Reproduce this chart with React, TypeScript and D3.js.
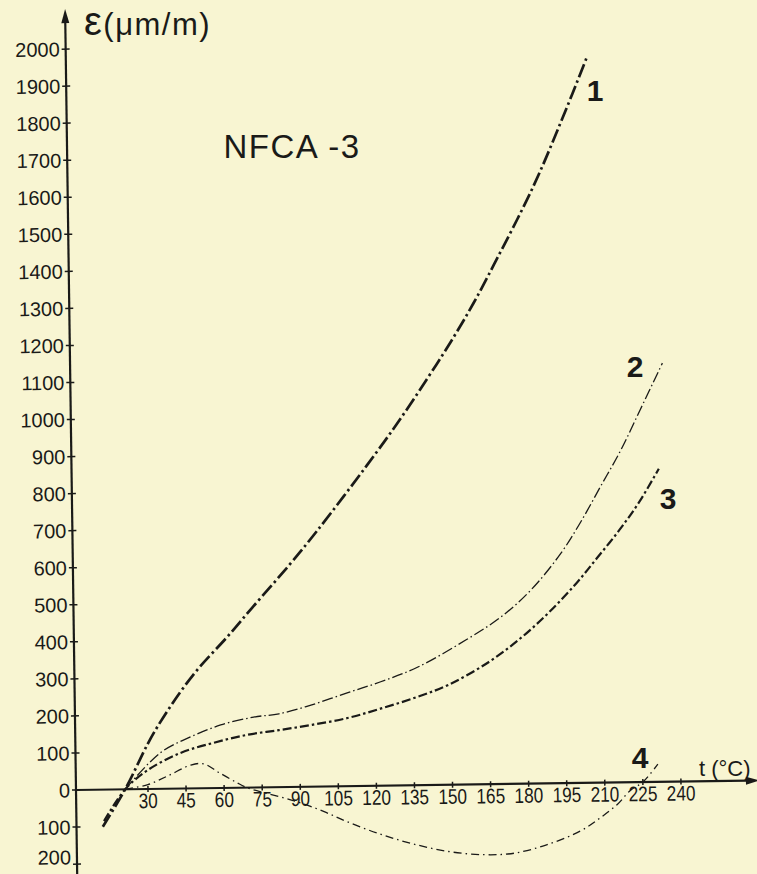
import React, { useEffect, useRef } from "react";
import * as d3 from "d3";

// temperature ticks (°C) and strain ticks (µm/m)
const xTicks = [30, 45, 60, 75, 90, 105, 120, 135, 150, 165, 180, 195, 210, 225, 240];
const yTicks = [-200, -100, 0, 100, 200, 300, 400, 500, 600, 700, 800, 900, 1000, 1100, 1200, 1300, 1400, 1500, 1600, 1700, 1800, 1900, 2000];

// curve 1
const curve1T = [12, 21, 30, 34, 43, 51, 62, 72, 87, 98, 118, 131, 146, 154, 161, 169, 185, 197, 207];
const curve1V = [-100, 0, 120, 167, 258, 327, 407, 485, 600, 690, 865, 985, 1135, 1220, 1300, 1400, 1610, 1795, 1960];

// curve 2
const curve2T = [21, 35, 47, 59, 72, 82, 95, 109, 122, 137, 156, 170, 182, 194, 202, 210, 218, 226, 235];
const curve2V = [0, 97, 139, 170, 190, 198, 221, 252, 280, 319, 390, 451, 523, 621, 705, 800, 895, 1005, 1130];

// curve 3
const curve3T = [12.5, 21, 30, 43, 56, 69, 82, 95, 109, 122, 136, 149, 165, 178, 189, 200, 208, 217, 225, 233];
const curve3V = [-85, 0, 51, 96, 122, 142, 154, 167, 184, 208, 237, 270, 330, 395, 462, 540, 605, 680, 755, 845];

// curve 4
const curve4T = [21, 30, 38, 47, 52, 58, 65, 69, 76, 84, 92, 100, 108, 121, 134, 148, 162, 174, 187, 200, 208, 215, 220, 225, 231];
const curve4V = [0, 12, 35, 63, 66, 42, 14, 0, -15, -30, -48, -70, -95, -130, -158, -180, -190, -187, -165, -130, -95, -58, -22, 0, 48];

const curveNames = ["1", "2", "3", "4"];

const App = () => {
  const svgRef = useRef(null);

  useEffect(() => {
    const width = 757;
    const height = 874;
    const ox = 76;
    const oy = 790;
    const ink = "#1a1a18";
    const font = "'Liberation Sans', Arial, sans-serif";

    const svg = d3.select(svgRef.current);
    svg.selectAll("*").remove();
    svg.attr("width", width).attr("height", height);

    svg.append("rect").attr("width", width).attr("height", height).attr("fill", "#f8f5d2");

    // the scanned page is turned a little
    const g = svg.append("g").attr("transform", `rotate(-0.8, ${ox}, ${oy})`);

    const x = d3.scaleLinear().domain([30, 240]).range([148, 681]);
    const y = d3.scaleLinear().domain([0, 2000]).range([oy, 49]);

    // axes
    g.append("line")
      .attr("x1", ox).attr("x2", ox).attr("y1", 874).attr("y2", 18)
      .attr("stroke", ink).attr("stroke-width", 2.2);
    g.append("path")
      .attr("d", `M${ox},9 L${ox - 4},23 L${ox + 4},23 Z`)
      .attr("fill", ink);
    g.append("line")
      .attr("x1", ox).attr("x2", 748).attr("y1", oy).attr("y2", oy)
      .attr("stroke", ink).attr("stroke-width", 2.2);
    g.append("path")
      .attr("d", `M760,${oy} L746,${oy - 4} L746,${oy + 4} Z`)
      .attr("fill", ink);

    // y ticks
    g.selectAll(".yt")
      .data(yTicks)
      .enter()
      .append("line")
      .attr("x1", ox - 4).attr("x2", ox + 4)
      .attr("y1", (d) => y(d)).attr("y2", (d) => y(d))
      .attr("stroke", ink).attr("stroke-width", 1.5);
    g.selectAll(".yl")
      .data(yTicks)
      .enter()
      .append("text")
      .attr("x", ox - 6)
      .attr("y", (d) => Math.min(y(d), 857))
      .attr("dy", "0.36em")
      .attr("text-anchor", "end")
      .style("font-family", font)
      .style("font-size", "20px")
      .attr("fill", ink)
      .text((d) => Math.abs(d));

    // x ticks
    g.selectAll(".xt")
      .data(xTicks)
      .enter()
      .append("line")
      .attr("x1", (d) => x(d)).attr("x2", (d) => x(d))
      .attr("y1", oy - 3).attr("y2", oy + 3)
      .attr("stroke", ink).attr("stroke-width", 1.5);
    g.selectAll(".xl")
      .data(xTicks)
      .enter()
      .append("text")
      .attr("transform", (d) => `translate(${x(d)},${oy + 19}) scale(0.82,1)`)
      .attr("text-anchor", "middle")
      .style("font-family", font)
      .style("font-size", "21px")
      .attr("fill", ink)
      .text((d) => d);

    // curves
    const series = [
      { t: curve1T, v: curve1V, w: 2.7, dash: "14 3.5 2.5 3.5" },
      { t: curve2T, v: curve2V, w: 1.3, dash: "11 3 1.5 3" },
      { t: curve3T, v: curve3V, w: 2.2, dash: "9 3 2.5 3" },
      { t: curve4T, v: curve4V, w: 1.3, dash: "8 4 1.5 4" },
    ];
    const line = d3
      .line()
      .x((d) => x(d[0]))
      .y((d) => y(d[1]))
      .curve(d3.curveCatmullRom.alpha(0.5));

    g.selectAll(".curve")
      .data(series)
      .enter()
      .append("path")
      .attr("d", (s) => line(s.t.map((t, i) => [t, s.v[i]])))
      .attr("fill", "none")
      .attr("stroke", ink)
      .attr("stroke-width", (s) => s.w)
      .attr("stroke-dasharray", (s) => s.dash)
      .attr("stroke-linecap", "butt");

    // texts (placed on the page as scanned)
    const title = svg.append("text")
      .attr("x", 84).attr("y", 35)
      .style("font-family", font)
      .style("font-size", "31px")
      .style("letter-spacing", "1.5px")
      .attr("fill", ink);
    title.append("tspan").style("font-size", "40px").text("ε");
    title.append("tspan").text("(μm/m)");

    svg.append("text")
      .attr("x", 292).attr("y", 158)
      .attr("text-anchor", "middle")
      .style("font-family", font)
      .style("font-size", "33px")
      .style("letter-spacing", "1.5px")
      .attr("fill", ink)
      .text("NFCA -3");

    svg.append("text")
      .attr("x", 699).attr("y", 776)
      .style("font-family", font)
      .style("font-size", "22px")
      .attr("fill", ink)
      .text("t (°C)");

    const labelPos = [
      [595, 90],
      [635, 366],
      [668, 498],
      [640, 757],
    ];
    svg.selectAll(".cl")
      .data(curveNames)
      .enter()
      .append("text")
      .attr("x", (d, i) => labelPos[i][0])
      .attr("y", (d, i) => labelPos[i][1])
      .attr("dy", "0.36em")
      .attr("text-anchor", "middle")
      .style("font-family", font)
      .style("font-size", "30px")
      .style("font-weight", "bold")
      .attr("fill", ink)
      .text((d) => d);
  }, []);

  return <svg ref={svgRef} style={{ position: "absolute", left: 0, top: 0 }}></svg>;
};

export default App;
